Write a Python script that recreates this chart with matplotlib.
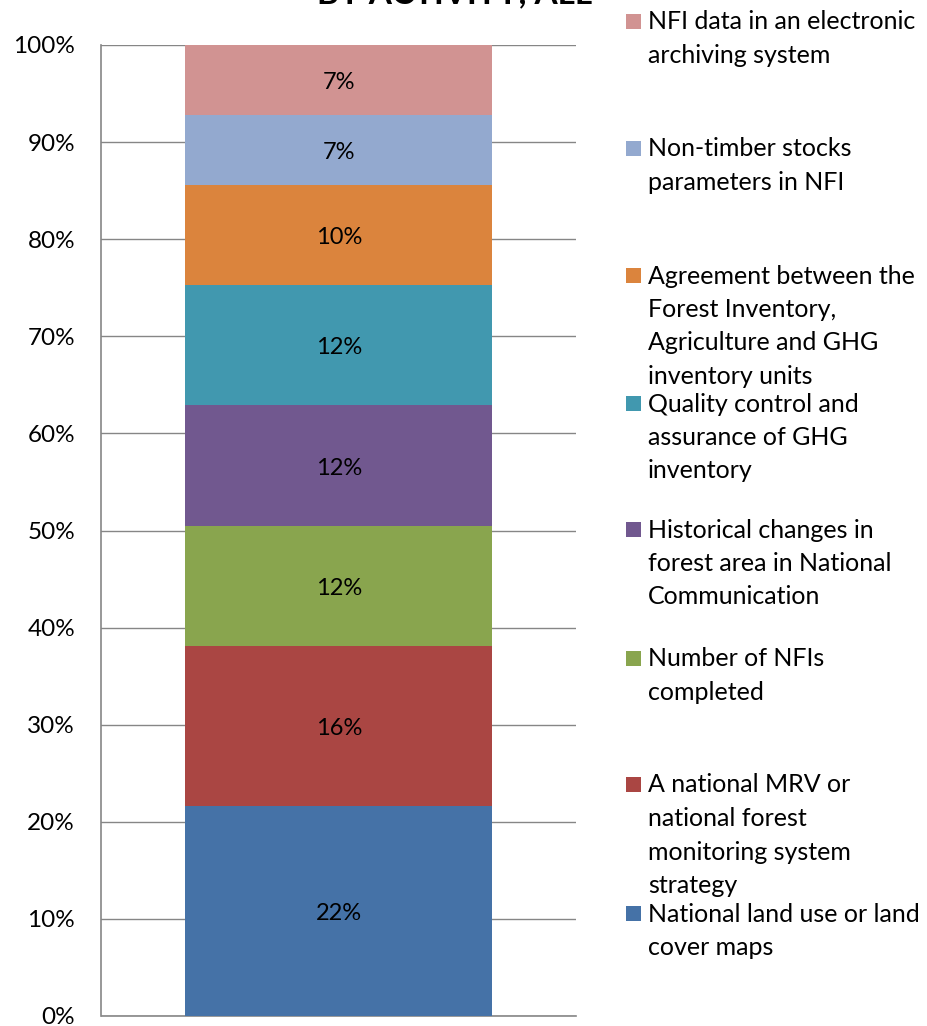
import matplotlib
matplotlib.use("Agg")
import matplotlib.pyplot as plt
from matplotlib.patches import Rectangle
from matplotlib.transforms import offset_copy

plt.rcParams['font.family'] = ['Lato', 'DejaVu Sans']

categories = [
    "National land use or land\ncover maps",
    "A national MRV or\nnational forest\nmonitoring system\nstrategy",
    "Number of NFIs\ncompleted",
    "Historical changes in\nforest area in National\nCommunication",
    "Quality control and\nassurance of GHG\ninventory",
    "Agreement between the\nForest Inventory,\nAgriculture and GHG\ninventory units",
    "Non-timber stocks\nparameters in NFI",
    "NFI data in an electronic\narchiving system",
]
values = [21.6, 16.5, 12.4, 12.4, 12.4, 10.3, 7.2, 7.2]
colors = ["#4572A7", "#AA4643", "#89A54E", "#71588F", "#4198AF", "#DB843D", "#93A9CF", "#D19392"]
yticks = [0, 10, 20, 30, 40, 50, 60, 70, 80, 90, 100]
title = "BY ACTIVITY, ALL"

W, H = 928, 1026
fig = plt.figure(figsize=(W / 100, H / 100), dpi=100)
ax = fig.add_axes([101.5 / W, 10 / H, (576 - 101.5) / W, (1016 - 45) / H])

lbl_tr = offset_copy(ax.transData, fig=fig, x=0, y=-2, units='points')
bottom = 0
for v, c in zip(values, colors):
    ax.bar(0, v, bottom=bottom, width=0.647, color=c, zorder=3)
    ax.text(0, bottom + v / 2, f"{v:.0f}%", ha='center', va='center', fontsize=17,
            zorder=4, transform=lbl_tr)
    bottom += v

ax.set_xlim(-0.5, 0.5)
ax.set_ylim(0, 100)
ax.set_yticks(yticks)
ax.set_yticklabels([f"{t}%" for t in yticks], fontsize=17.5)
ax.set_xticks([])
ax.tick_params(axis='y', length=0, pad=19)
ax.grid(axis='y', color='#868686', lw=1, zorder=0)
for s in ['top', 'right']:
    ax.spines[s].set_visible(False)
for s in ['left', 'bottom']:
    ax.spines[s].set_color('#868686')
    ax.spines[s].set_linewidth(1.2)

fig.text(455 / W, 1 - 3 / H, title, ha='center', va='baseline', fontsize=24, fontweight='bold')

# legend
entry_y = [913, 784, 658, 529, 403, 275, 148, 21]
line_h = 33.5
for cat, c, y0 in zip(categories, colors, entry_y):
    fig.patches.append(Rectangle((626 / W, 1 - (y0 + 7.5) / H), 15 / W, 15 / H,
                                 transform=fig.transFigure, facecolor=c, edgecolor='none'))
    for i, line in enumerate(cat.split("\n")):
        fig.text(648 / W, 1 - (y0 + 1 + i * line_h) / H, line, ha='left', va='center', fontsize=18)

fig.savefig("out.png", dpi=100)
